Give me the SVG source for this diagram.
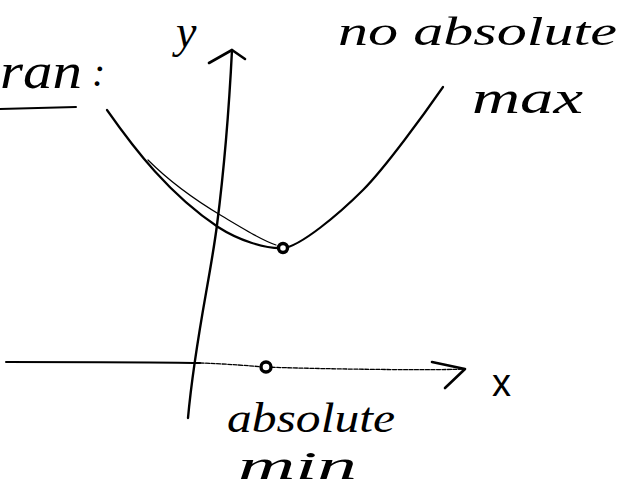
<svg xmlns="http://www.w3.org/2000/svg" width="621" height="498" viewBox="0 0 621 498">
<style>
.ink{fill:none;stroke:#000;stroke-linecap:round;stroke-linejoin:round}
.hand{font-family:"Liberation Serif","DejaVu Serif",serif;font-style:italic;fill:#000}
.dot{fill:#fff;stroke:#000;stroke-width:3.4}
</style>
<rect width="621" height="498" fill="#fff"/>
<g id="title">
<text class="hand" x="0" y="88" font-size="50" textLength="82" lengthAdjust="spacingAndGlyphs">ran</text>
<text class="hand" x="92" y="86" font-size="40">:</text>
<path class="ink" d="M0,109 L76,107" stroke-width="2"/>
</g>
<g id="connectors">
<g id="y-axis">
<path class="ink" d="M232,50 C229,110 224,170 217,225 S195,340 188,418" stroke-width="2.4"/>
<polyline class="ink" points="209,63 232,50 245,59" stroke-width="2.6"/>
</g>
<g id="x-axis">
<path class="ink" d="M6,362 C80,362 150,362 200,363" stroke-width="2"/>
<path class="ink" d="M200,363 C230,364 250,366 266,367 S420,371 465,369" stroke="#333" stroke-width="1.3" stroke-dasharray="4 1.5"/>
<polyline class="ink" points="432,362 465,369 445,388" stroke-width="2.6"/>
</g>
<g id="curve">
<path class="ink" d="M148,160 C170,182 195,200 222,216 S262,240 276,245" stroke="#999" stroke-width="1.2"/>
<path class="ink" d="M107,110 C135,150 170,195 218,227 C238,240 265,249 283,248 C300,247 340,213 363,190 C385,168 425,113 443,87" stroke-width="2.2"/>
</g>
</g>
<g id="min-point">
<circle class="dot" cx="283" cy="248" r="4.5"/>
</g>
<g id="axis-point">
<circle class="dot" cx="266" cy="367" r="5"/>
</g>
<g id="label-y">
<text class="hand" x="176" y="47" font-size="46">y</text>
</g>
<g id="label-x">
<text x="492" y="396" font-family="Liberation Sans, Arial, sans-serif" font-size="38" fill="#000">x</text>
</g>
<g id="label-no-max">
<text class="hand" x="338" y="45" font-size="40" textLength="279" lengthAdjust="spacingAndGlyphs">no absolute</text>
<text class="hand" x="472" y="113" font-size="46" textLength="111" lengthAdjust="spacingAndGlyphs">max</text>
</g>
<g id="label-min">
<text class="hand" x="227" y="432" font-size="42" textLength="168" lengthAdjust="spacingAndGlyphs">absolute</text>
<text class="hand" x="238" y="479" font-size="40" textLength="119" lengthAdjust="spacingAndGlyphs">min</text>
</g>
</svg>
